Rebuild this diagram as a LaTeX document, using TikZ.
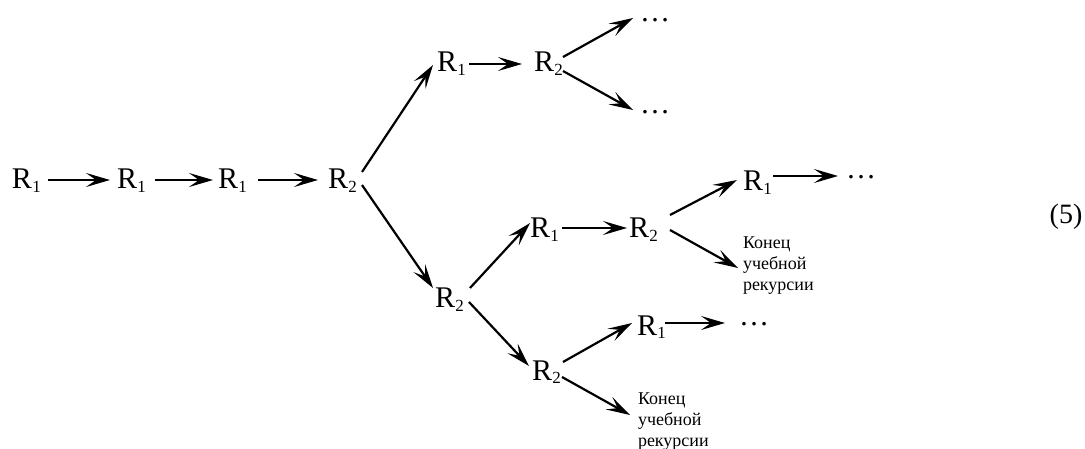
\documentclass[tikz,border=0pt]{standalone}
\usepackage{fontspec}
\setmainfont{Liberation Serif}
\usetikzlibrary{arrows.meta}
\newcommand{\Rs}[1]{R\kern0.3pt\raisebox{-3.5pt}{\fontsize{17}{17}\selectfont #1}}
\begin{document}
\begin{tikzpicture}[x=1pt,y=-1pt,
  lab/.style={font=\fontsize{30}{36}\selectfont, inner sep=0pt, outer sep=0pt, anchor=base west},
  note/.style={font=\fontsize{18}{21}\selectfont, align=left, inner sep=0pt, outer sep=0pt, anchor=north west},
  arr/.style={line width=2.2pt, -{Stealth[length=24pt,width=14pt,inset=10pt]}}]
\useasboundingbox (0,0) rectangle (1085,449);
% main row
\node[lab] (m1) at (12,189) {\Rs{1}};
\node[lab] (m2) at (117,189) {\Rs{1}};
\node[lab] (m3) at (218,189) {\Rs{1}};
\node[lab] (m4) at (328,189) {\Rs{2}};
% top branch
\node[lab] (t1) at (437,72) {\Rs{1}};
\node[lab] (t2) at (534,72) {\Rs{2}};
\node[lab] (td1) at (640,22) {…};
\node[lab] (td2) at (640,114) {…};
% lower branch
\node[lab] (b1) at (435,308) {\Rs{2}};
\node[lab] (c1) at (530,238) {\Rs{1}};
\node[lab] (c2) at (629,238) {\Rs{2}};
\node[lab] (c3) at (743,191) {\Rs{1}};
\node[lab] (c4) at (846,179) {…};
\node[note] (c5) at (743,237) {Конец\\учебной\\рекурсии};
\node[lab] (d1) at (532,380) {\Rs{2}};
\node[lab] (d2) at (637,335) {\Rs{1}};
\node[lab] (d3) at (739,326) {…};
\node[note] (d4) at (638,393) {Конец\\учебной\\рекурсии};
\node[font=\fontsize{28}{33}\selectfont, inner sep=0pt] (eq) at (1066,217) {(5)};
% arrows
\draw[arr] ([shift={(36,-9)}]m1.base west) -- ([shift={(-7,-9)}]m2.base west);
\draw[arr] ([shift={(38,-9)}]m2.base west) -- ([shift={(-5,-9)}]m3.base west);
\draw[arr] ([shift={(40,-9)}]m3.base west) -- ([shift={(-10,-9)}]m4.base west);
\draw[arr] ([shift={(34,-17)}]m4.base west) -- ([shift={(-4,-7)}]t1.base west);
\draw[arr] ([shift={(34,-4)}]m4.base west) -- ([shift={(-2,-20)}]b1.base west);
\draw[arr] ([shift={(32,-8)}]t1.base west) -- ([shift={(-12,-8)}]t2.base west);
\draw[arr] ([shift={(29,-15)}]t2.base west) -- ([shift={(-7,-4)}]td1.base west);
\draw[arr] ([shift={(29,-1)}]t2.base west) -- ([shift={(-7,-4)}]td2.base west);
\draw[arr] ([shift={(35,-20)}]b1.base west) -- ([shift={(0,-15)}]c1.base west);
\draw[arr] ([shift={(32,-10)}]c1.base west) -- ([shift={(-2,-10)}]c2.base west);
\draw[arr] ([shift={(41,-23)}]c2.base west) -- ([shift={(-6,-11)}]c3.base west);
\draw[arr] ([shift={(41,-8)}]c2.base west) -- ([shift={(-5,31)}]c5.north west);
\draw[arr] ([shift={(30,-15)}]c3.base west) -- ([shift={(-8,-3)}]c4.base west);
\draw[arr] ([shift={(34,-6)}]b1.base west) -- ([shift={(-3,-14)}]d1.base west);
\draw[arr] ([shift={(31,-18)}]d1.base west) -- ([shift={(-5,-12)}]d2.base west);
\draw[arr] ([shift={(30,-3)}]d1.base west) -- ([shift={(-8,22)}]d4.north west);
\draw[arr] ([shift={(28,-12)}]d2.base west) -- ([shift={(-14,-3)}]d3.base west);
\end{tikzpicture}
\end{document}
